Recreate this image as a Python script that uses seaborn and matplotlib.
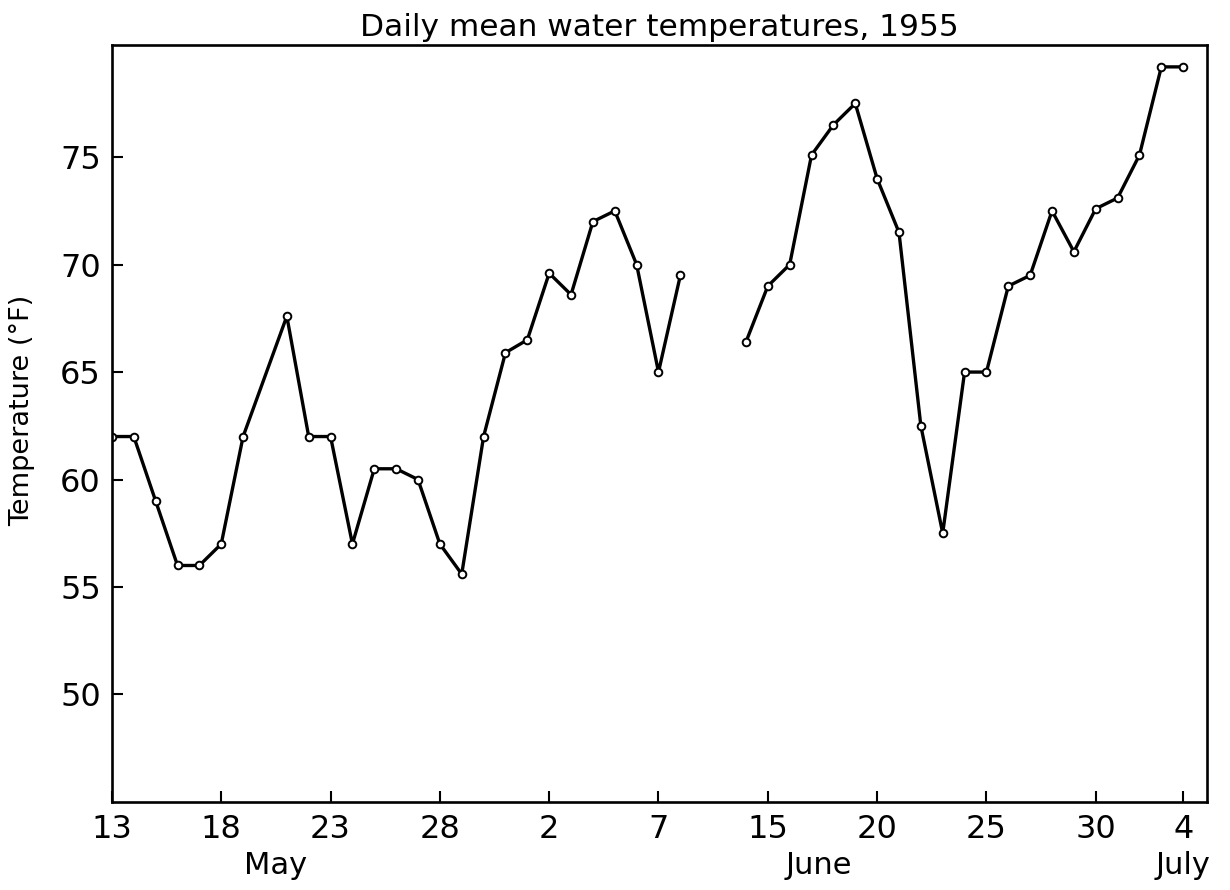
import matplotlib
matplotlib.use("Agg")
import matplotlib.pyplot as plt
import matplotlib.transforms as mtransforms
import seaborn as sns
import pandas as pd

# daily mean water temperature, 1955 (May 20 and June 9-13 not recorded)
dates = [
    "1955-05-13", "1955-05-14", "1955-05-15", "1955-05-16", "1955-05-17", "1955-05-18",
    "1955-05-19", "1955-05-21", "1955-05-22", "1955-05-23", "1955-05-24", "1955-05-25",
    "1955-05-26", "1955-05-27", "1955-05-28", "1955-05-29", "1955-05-30", "1955-05-31",
    "1955-06-01", "1955-06-02", "1955-06-03", "1955-06-04", "1955-06-05", "1955-06-06",
    "1955-06-07", "1955-06-08",
    "1955-06-14", "1955-06-15", "1955-06-16", "1955-06-17", "1955-06-18", "1955-06-19",
    "1955-06-20", "1955-06-21", "1955-06-22", "1955-06-23", "1955-06-24", "1955-06-25",
    "1955-06-26", "1955-06-27", "1955-06-28", "1955-06-29", "1955-06-30", "1955-07-01",
    "1955-07-02", "1955-07-03", "1955-07-04",
]
temps = [
    62.0, 62.0, 59.0, 56.0, 56.0, 57.0,
    62.0, 67.6, 62.0, 62.0, 57.0, 60.5,
    60.5, 60.0, 57.0, 55.6, 62.0, 65.9,
    66.5, 69.6, 68.6, 72.0, 72.5, 70.0,
    65.0, 69.5,
    66.4, 69.0, 70.0, 75.1, 76.5, 77.5,
    74.0, 71.5, 62.5, 57.5, 65.0, 65.0,
    69.0, 69.5, 72.5, 70.6, 72.6, 73.1,
    75.1, 79.2, 79.2,
]

tick_dates = ["1955-05-13", "1955-05-18", "1955-05-23", "1955-05-28", "1955-06-02",
              "1955-06-07", "1955-06-15", "1955-06-20", "1955-06-25", "1955-06-30",
              "1955-07-04"]
tick_labels = ["13", "18", "23", "28", "2", "7", "15", "20", "25", "30", "4"]
months = ["May", "June", "July"]
month_dates = ["1955-05-20 12:00", "1955-06-17 08:00", "1955-07-04"]

start = pd.Timestamp("1955-05-13")
break_at = pd.Timestamp("1955-06-10")
skipped = 3  # the axis is shortened by three days over the gap


def axis_pos(d):
    d = pd.to_datetime(d)
    days = (d - start) / pd.Timedelta(days=1)
    return days - skipped * (d > break_at)


df = pd.DataFrame({"date": pd.to_datetime(dates), "temp": temps})
df["x"] = axis_pos(df["date"])
df["segment"] = (df["date"] > break_at).astype(int)

sns.set_style("ticks")
plt.rcParams["font.family"] = ["DejaVu Sans"]
plt.rcParams["text.color"] = "black"
plt.rcParams["axes.labelcolor"] = "black"
plt.rcParams["xtick.color"] = "black"
plt.rcParams["ytick.color"] = "black"

fig = plt.figure(figsize=(12.3, 8.9), dpi=100)
ax = fig.add_axes([0.091, 0.099, 0.8905, 0.85])

sns.lineplot(data=df, x="x", y="temp", units="segment", estimator=None,
             color="black", linewidth=2.4, marker="o", markersize=5.5,
             markerfacecolor="white", markeredgecolor="black",
             markeredgewidth=1.4, ax=ax, legend=False)

ax.set_xlim(0, 50.1)
ax.set_ylim(45.0, 80.2)
ax.set_xticks(axis_pos(pd.Series(tick_dates)))
ax.set_xticklabels(tick_labels)
ax.set_yticks([50, 55, 60, 65, 70, 75])
ax.tick_params(direction="in", length=8, width=1.5, labelsize=23, pad=8,
               color="black", labelcolor="black")
ax.tick_params(axis="x", pad=9)

for side in ["left", "right", "top", "bottom"]:
    ax.spines[side].set_linewidth(1.9)
    ax.spines[side].set_color("black")

ax.set_xlabel("")
ax.set_ylabel("Temperature (°F)", fontsize=19.5, color="black")
ax.yaxis.set_label_coords(-0.070, 0.517)
ax.set_title("Daily mean water temperatures, 1955", fontsize=22.5, pad=7,
             color="black")

trans = mtransforms.blended_transform_factory(ax.transData, ax.transAxes)
for name, md in zip(months, month_dates):
    ax.text(axis_pos(pd.Series([md]))[0], -0.084, name, transform=trans,
            ha="center", va="center", fontsize=22, color="black")

fig.savefig("out.png", dpi=100)
